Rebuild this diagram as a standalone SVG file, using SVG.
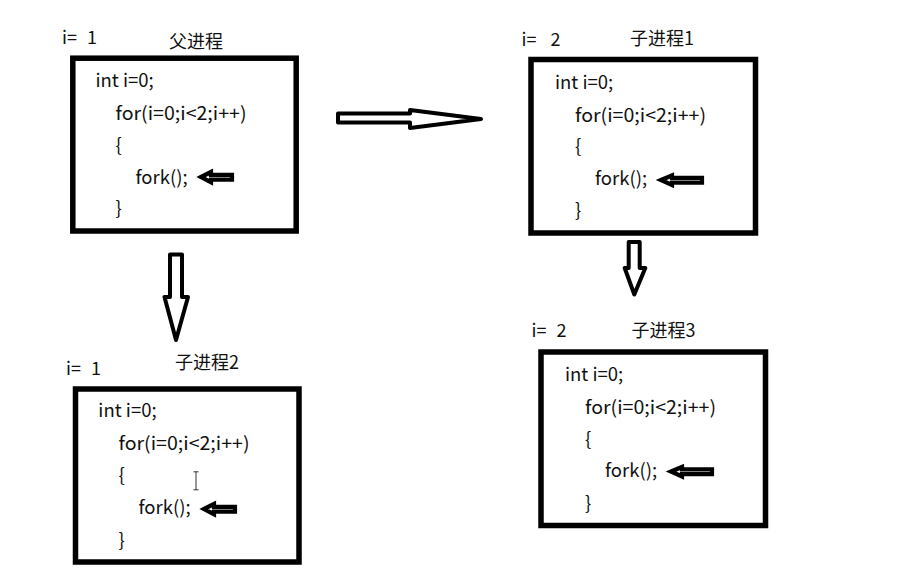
<svg xmlns="http://www.w3.org/2000/svg" width="912" height="582" viewBox="0 0 912 582">
<style>
.box{fill:#fff;stroke:#000;stroke-width:5.5}
.t{font-family:"Noto Sans CJK SC","Liberation Sans",sans-serif;font-size:18px;fill:#111}
.c{font-family:"Noto Sans CJK SC","Liberation Sans",sans-serif;font-size:18.5px;fill:#111}
.big{fill:#fff;stroke:#000;stroke-width:4;stroke-linejoin:round}
.sm{fill:#fff;stroke:#000;stroke-width:4.2;stroke-linejoin:miter}
</style>
<rect width="912" height="582" fill="#fff"/>
<g id="parent">
<rect class="box" x="72.8" y="58.2" width="223.4" height="172.8"/>
<text class="t" x="62" y="44">i=</text>
<text class="t" x="87" y="44">1</text>
<text class="t" x="169" y="48">父进程</text>
<text class="c" x="95.5" y="87">int i=0;</text>
<text class="c" x="115.5" y="120" textLength="131" lengthAdjust="spacingAndGlyphs">for(i=0;i&lt;2;i++)</text>
<text class="c" x="115.5" y="152">{</text>
<text class="c" x="135.5" y="183.5">fork();</text>
<text class="c" x="115.5" y="215">}</text>
<polygon class="sm" points="201,177 211,172 211,174.8 232,174.8 232,179.6 211,179.6 211,182.2"/>
</g>
<g id="child2">
<rect class="box" x="75.5" y="389" width="223.5" height="173"/>
<text class="t" x="66" y="375">i=</text>
<text class="t" x="91" y="375">1</text>
<text class="t" x="175" y="369">子进程2</text>
<text class="c" x="98.3" y="417">int i=0;</text>
<text class="c" x="118.5" y="450" textLength="131" lengthAdjust="spacingAndGlyphs">for(i=0;i&lt;2;i++)</text>
<text class="c" x="118.5" y="482">{</text>
<text class="c" x="138.5" y="513.5">fork();</text>
<text class="c" x="118.5" y="547">}</text>
<polygon class="sm" points="204,509 214,504 214,506.8 235,506.8 235,511.6 214,511.6 214,514.2"/>
<path d="M193.5 471.8h5M196 471.8v18M193.5 489.8h5" stroke="#333" stroke-width="1" fill="none"/>
</g>
<g id="child1">
<rect class="box" x="531" y="59.5" width="224.5" height="173.5"/>
<text class="t" x="521.5" y="46">i=</text>
<text class="t" x="550.5" y="46">2</text>
<text class="t" x="630" y="45">子进程1</text>
<text class="c" x="555" y="88.5">int i=0;</text>
<text class="c" x="575" y="121.5" textLength="131" lengthAdjust="spacingAndGlyphs">for(i=0;i&lt;2;i++)</text>
<text class="c" x="575" y="153">{</text>
<text class="c" x="595" y="185">fork();</text>
<text class="c" x="575" y="217">}</text>
<polygon class="sm" points="661,180 672,175.5 672,177.8 702,177.8 702,182.6 672,182.6 672,185"/>
</g>
<g id="child3">
<rect class="box" x="541" y="352" width="224.5" height="173.5"/>
<text class="t" x="531.5" y="337">i=</text>
<text class="t" x="556.5" y="337">2</text>
<text class="t" x="631.5" y="337">子进程3</text>
<text class="c" x="565" y="380.5">int i=0;</text>
<text class="c" x="585" y="413.5" textLength="131" lengthAdjust="spacingAndGlyphs">for(i=0;i&lt;2;i++)</text>
<text class="c" x="585" y="446">{</text>
<text class="c" x="605" y="477">fork();</text>
<text class="c" x="585" y="509.5">}</text>
<polygon class="sm" points="671,471.5 682,467 682,469.3 712,469.3 712,474.1 682,474.1 682,476.5"/>
</g>
<g id="connectors">
<polygon class="big" points="338,113.5 410,113.5 410,110 481,119 410,128 410,122.5 338,122.5"/>
<polygon class="big" points="170,254.5 182,254.5 182,297 188,297 176,340 164.5,297 170,297"/>
<polygon class="big" points="628.7,242 639.7,242 639.7,268 645.3,268 634.3,294.5 624.7,268 628.7,268"/>
</g>
</svg>
